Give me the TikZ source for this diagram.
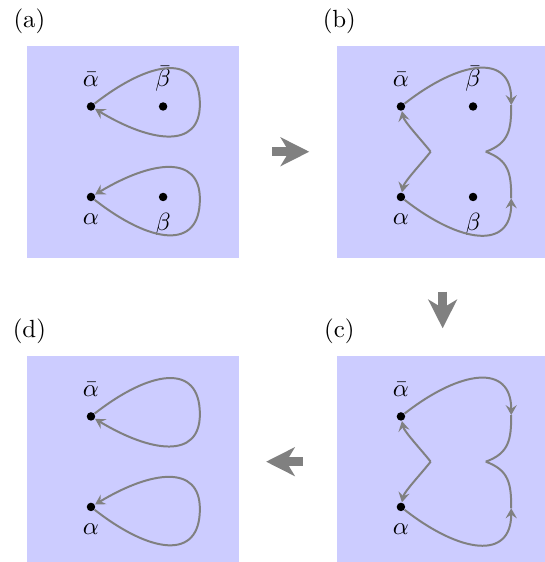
\documentclass[tikz,border=0pt]{standalone}
\usepackage{amsmath}
\usepackage{xcolor}
\usepackage{tikz}
\usetikzlibrary{positioning, arrows.meta}

\begin{document}
\begin{tikzpicture}[
    node distance=1.37cm,
    panel/.style={
        rectangle,
        fill=blue!20,
        minimum size=3cm,
        inner sep=0pt
    },
    dot/.style={
        circle,
        fill=black,
        inner sep=0pt,
        minimum size=1.2mm
    },
    lblabove/.style={
        label={[text depth=0.5ex, label distance=0.3pt]above:#1}
    },
    lblbelow/.style={
        label={[label distance=1.3pt]below:#1}
    },
    loopline/.style={
        gray,
        thick
    },
    looparrow/.style={
        loopline,
        -{Stealth[length=4pt, width=4.5pt, inset=1.5pt]}
    },
    bigarrow/.style={
        -{Stealth[length=11.5pt, width=11.5pt, inset=3.4pt]},
        line width=3.8pt,
        gray,
        shorten <=0.47cm,
        shorten >=0.38cm
    }
]

\useasboundingbox (-1.877,-5.803) rectangle (5.818,2.146);

% Panels
\node[panel] (pa) at (0,0) {};
\node[panel, right=of pa] (pb) {};
\node[panel, below=of pb] (pc) {};
\node[panel, left=of pc] (pd) {};

% Panel labels
\node[above=1pt of pa.north west, xshift=1.3pt] (la) {(a)};
\node[above=1pt of pb.north west, xshift=1.3pt] (lb) {(b)};
\node[above=1pt of pc.north west, xshift=1.3pt] (lc) {(c)};
\node[above=1pt of pd.north west, xshift=1.3pt] (ld) {(d)};

% (a) two separate loops
\begin{scope}[shift={(pa.center)}]
    \node[dot, lblabove=$\bar\alpha$] (abar-a) at (-0.59,0.64) {};
    \node[dot, lblabove=$\bar\beta$] (bbar-a) at (0.43,0.64) {};
    \node[dot, lblbelow=$\alpha$] (alpha-a) at (-0.59,-0.64) {};
    \node[dot, lblbelow=$\beta$] (beta-a) at (0.43,-0.64) {};
    \coordinate (r1-a) at (0.95,0.67);
    \coordinate (r2-a) at (0.95,-0.67);
\end{scope}
\draw[looparrow] (abar-a) .. controls +(38:1.06) and +(0,0.74) .. (r1-a)
    .. controls +(0,-0.64) and +(-31:0.99) .. (abar-a);
\draw[looparrow] (alpha-a) .. controls +(-38:1.06) and +(0,-0.74) .. (r2-a)
    .. controls +(0,0.64) and +(31:0.99) .. (alpha-a);

% (b) pinched loops
\begin{scope}[shift={(pb.center)}]
    \node[dot, lblabove=$\bar\alpha$] (abar-b) at (-0.59,0.64) {};
    \node[dot, lblabove=$\bar\beta$] (bbar-b) at (0.43,0.64) {};
    \node[dot, lblbelow=$\alpha$] (alpha-b) at (-0.59,-0.64) {};
    \node[dot, lblbelow=$\beta$] (beta-b) at (0.43,-0.64) {};
    \coordinate (r1-b) at (0.97,0.66);
    \coordinate (r2-b) at (0.97,-0.66);
    \coordinate (rk-b) at (0.61,0);
    \coordinate (lk-b) at (-0.17,0);
\end{scope}
\draw[looparrow] (abar-b) .. controls +(38:1.06) and +(0,0.74) .. (r1-b);
\draw[loopline] (r1-b) .. controls +(0,-0.35) and +(20:0.35) .. (rk-b);
\draw[looparrow] (alpha-b) .. controls +(-38:1.06) and +(0,-0.74) .. (r2-b);
\draw[loopline] (r2-b) .. controls +(0,0.35) and +(-20:0.35) .. (rk-b);
\draw[looparrow] (lk-b) .. controls +(128:0.2) and +(-78:0.22) .. (abar-b);
\draw[looparrow] (lk-b) .. controls +(-128:0.2) and +(78:0.22) .. (alpha-b);

% (c) same, beta points gone
\begin{scope}[shift={(pc.center)}]
    \node[dot, lblabove=$\bar\alpha$] (abar-c) at (-0.59,0.64) {};
    \node[dot, lblbelow=$\alpha$] (alpha-c) at (-0.59,-0.64) {};
    \coordinate (r1-c) at (0.97,0.66);
    \coordinate (r2-c) at (0.97,-0.66);
    \coordinate (rk-c) at (0.61,0);
    \coordinate (lk-c) at (-0.17,0);
\end{scope}
\draw[looparrow] (abar-c) .. controls +(38:1.06) and +(0,0.74) .. (r1-c);
\draw[loopline] (r1-c) .. controls +(0,-0.35) and +(20:0.35) .. (rk-c);
\draw[looparrow] (alpha-c) .. controls +(-38:1.06) and +(0,-0.74) .. (r2-c);
\draw[loopline] (r2-c) .. controls +(0,0.35) and +(-20:0.35) .. (rk-c);
\draw[looparrow] (lk-c) .. controls +(128:0.2) and +(-78:0.22) .. (abar-c);
\draw[looparrow] (lk-c) .. controls +(-128:0.2) and +(78:0.22) .. (alpha-c);

% (d) loops again
\begin{scope}[shift={(pd.center)}]
    \node[dot, lblabove=$\bar\alpha$] (abar-d) at (-0.59,0.64) {};
    \node[dot, lblbelow=$\alpha$] (alpha-d) at (-0.59,-0.64) {};
    \coordinate (r1-d) at (0.95,0.67);
    \coordinate (r2-d) at (0.95,-0.67);
\end{scope}
\draw[looparrow] (abar-d) .. controls +(38:1.06) and +(0,0.74) .. (r1-d)
    .. controls +(0,-0.64) and +(-31:0.99) .. (abar-d);
\draw[looparrow] (alpha-d) .. controls +(-38:1.06) and +(0,-0.74) .. (r2-d)
    .. controls +(0,0.64) and +(31:0.99) .. (alpha-d);

% Arrows between panels
\draw[bigarrow] (pa) -- (pb);
\draw[bigarrow] (pb) -- (pc);
\draw[bigarrow] (pc) -- (pd);

\end{tikzpicture}
\end{document}
